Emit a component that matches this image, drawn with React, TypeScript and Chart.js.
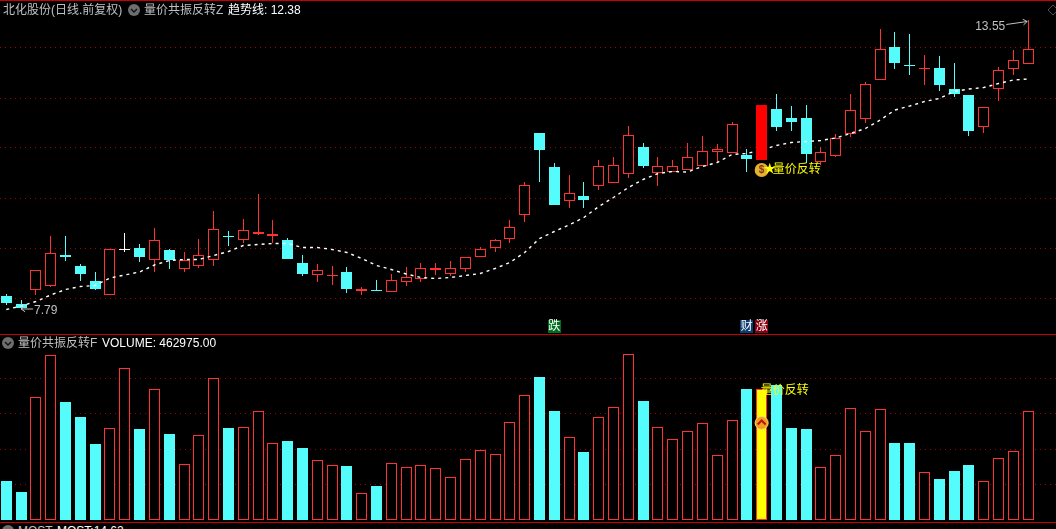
import { useEffect, useRef } from "react";
import { Chart, registerables } from "chart.js";

Chart.register(...registerables);

const days = Array.from({ length: 70 }, (_, i) => i);

const open = [
  8.04, 7.89, 8.17, 8.25, 8.86, 8.64, 8.35, 8.07, 8.99, 9.0,
  8.77, 8.96, 8.59, 8.65, 8.77, 9.23, 9.17, 9.29, 9.23, 9.16,
  8.7, 8.47, 8.45, 8.52, 8.15, 8.17, 8.13, 8.33, 8.39, 8.57,
  8.49, 8.59, 8.81, 9.01, 9.19, 9.67, 11.3, 10.62, 9.95, 10.04,
  10.25, 10.31, 10.47, 11.02, 10.49, 10.53, 10.55, 10.63, 10.93, 10.89,
  10.87, 10.76, 11.78, 11.6, 11.6, 10.71, 10.85, 11.29, 11.59, 12.37,
  13.02, 12.65, 12.58, 12.6, 12.18, 12.06, 11.43, 12.17, 12.57, 12.69,
];
const close = [
  7.91, 7.81, 8.57, 8.89, 8.83, 8.49, 8.19, 8.99, 8.99, 8.83,
  9.17, 8.77, 8.76, 8.87, 9.39, 9.22, 9.37, 9.32, 9.29, 8.79,
  8.49, 8.57, 8.47, 8.19, 8.19, 8.15, 8.37, 8.43, 8.61, 8.61,
  8.61, 8.81, 8.99, 9.15, 9.43, 10.27, 10.96, 9.86, 10.11, 9.96,
  10.63, 10.67, 11.25, 10.64, 10.63, 10.63, 10.81, 10.95, 10.97, 11.47,
  10.79, 11.86, 11.42, 11.52, 10.88, 10.93, 11.2, 11.77, 12.29, 12.97,
  12.7, 12.64, 12.59, 12.26, 12.08, 11.34, 11.81, 12.55, 12.75, 12.97,
];
const high = [
  8.08, 7.96, 8.57, 9.24, 9.24, 8.69, 8.52, 8.99, 9.3, 9.08,
  9.4, 8.98, 8.92, 9.18, 9.74, 9.34, 9.58, 10.08, 9.56, 9.2,
  8.86, 8.68, 8.64, 8.62, 8.22, 8.36, 8.48, 8.62, 8.7, 8.7,
  8.74, 8.81, 9.02, 9.18, 9.56, 10.32, 11.3, 10.7, 10.46, 10.32,
  10.77, 10.83, 11.44, 11.1, 10.83, 10.76, 11.11, 11.23, 11.07, 11.52,
  10.98, 11.86, 12.08, 11.84, 11.86, 11.02, 11.28, 12.08, 12.32, 13.38,
  13.32, 13.28, 12.86, 12.84, 12.7, 12.06, 11.81, 12.62, 12.96, 13.55,
];
const low = [
  7.87, 7.79, 8.07, 8.21, 8.75, 8.35, 8.17, 8.07, 8.93, 8.71,
  8.53, 8.58, 8.53, 8.61, 8.65, 9.04, 9.1, 9.27, 9.1, 8.79,
  8.45, 8.33, 8.27, 8.11, 8.07, 8.15, 8.13, 8.24, 8.31, 8.47,
  8.45, 8.53, 8.81, 8.93, 9.11, 9.53, 10.32, 9.86, 9.81, 9.81,
  10.17, 10.31, 10.41, 10.6, 10.25, 10.53, 10.55, 10.63, 10.71, 10.89,
  10.53, 10.76, 11.35, 11.34, 10.7, 10.65, 10.81, 11.21, 11.51, 12.37,
  12.58, 12.46, 12.26, 12.14, 12.02, 11.24, 11.3, 11.94, 12.46, 12.69,
];
const trend = [
  7.77, 7.84, 7.93, 8.06, 8.17, 8.23, 8.25, 8.4, 8.46, 8.52,
  8.66, 8.75, 8.77, 8.77, 8.85, 8.93, 9.05, 9.07, 9.09, 9.09,
  9.01, 9.01, 8.97, 8.91, 8.79, 8.65, 8.57, 8.48, 8.41, 8.39,
  8.41, 8.45, 8.49, 8.59, 8.71, 8.91, 9.19, 9.33, 9.46, 9.61,
  9.83, 10.01, 10.21, 10.37, 10.49, 10.53, 10.52, 10.63, 10.71, 10.87,
  10.89, 10.96, 11.05, 11.11, 11.13, 11.15, 11.2, 11.29, 11.39, 11.56,
  11.76, 11.84, 11.93, 11.99, 12.13, 12.18, 12.21, 12.29, 12.36, 12.38,
];
const volume = [
  164000, 118000, 520000, 698000, 500000, 436000, 321000, 388000, 643000, 385000,
  554000, 364000, 235000, 358000, 600000, 389000, 392000, 460000, 324000, 334000,
  304000, 252000, 231000, 228000, 112000, 143000, 239000, 222000, 231000, 218000,
  180000, 256000, 295000, 278000, 413000, 528000, 606000, 461000, 350000, 287000,
  435000, 477000, 702000, 504000, 392000, 341000, 375000, 409000, 273000, 422000,
  555000, 555000, 572000, 389000, 385000, 222000, 273000, 473000, 375000, 469000,
  326000, 326000, 201000, 173000, 207000, 232000, 163000, 261000, 290000, 462975,
];
const priceTicks = [8, 9, 10, 11, 12, 13];
const volumeTicks = [150000, 300000, 450000, 600000];

const reversalDay = 51;
const signalLabel = "量价反转";
const dayMarks = [
  { day: 37, text: "跌", color: "#006e1e" },
  { day: 50, text: "财", color: "#0c3c70" },
  { day: 51, text: "涨", color: "#8a0010" },
];

const RED = "#ff3232";
const CYAN = "#54fcfc";
const GRID = "#a00000";
const LABEL_FONT = '12px "Liberation Sans", "Noto Sans CJK SC", sans-serif';

const candleColor = (i: number) => {
  if (close[i] > open[i]) return RED;
  if (close[i] < open[i]) return CYAN;
  return "#ffffff";
};

const xScale = { type: "linear" as const, display: false, offset: false, min: -0.425, max: 70.875 };
const yScale = (min: number, max: number, ticks: number[]) => ({
  min,
  max,
  afterBuildTicks: (scale: any) => {
    scale.ticks = ticks.map((value) => ({ value }));
  },
  ticks: { display: false },
  border: { display: false, dash: [1, 4] },
  grid: { color: GRID, drawTicks: false },
});

// the old terminal draws everything on whole pixels, chart.js does not
const snapBars = {
  id: "snapBars",
  beforeDatasetsDraw(chart: any) {
    chart.getSortedVisibleDatasetMetas().forEach((meta: any) => {
      if (meta.type !== "bar") return;
      meta.data.forEach((el: any) => {
        el.x = Math.floor(el.x) + 0.5;
        el.y = Math.round(el.y);
        el.base = Math.round(el.base);
        if (Math.abs(el.base - el.y) < 1) el.base = el.y + 1;
      });
    });
  },
};

const arrow = (ctx: CanvasRenderingContext2D, x0: number, y0: number, x1: number, y1: number) => {
  const a = Math.atan2(y1 - y0, x1 - x0);
  ctx.beginPath();
  ctx.moveTo(x0, y0);
  ctx.lineTo(x1, y1);
  ctx.lineTo(x1 - 5 * Math.cos(a - 0.6), y1 - 5 * Math.sin(a - 0.6));
  ctx.moveTo(x1, y1);
  ctx.lineTo(x1 - 5 * Math.cos(a + 0.6), y1 - 5 * Math.sin(a + 0.6));
  ctx.stroke();
};

const priceMarks = {
  id: "priceMarks",
  afterDraw(chart: any) {
    const { ctx, scales } = chart;
    const x = scales.x;
    const y = scales.y;
    ctx.save();
    ctx.font = LABEL_FONT;
    ctx.textBaseline = "middle";
    ctx.lineWidth = 1;
    ctx.strokeStyle = "#c0c0c0";

    // highest high and lowest low
    const top = Math.max(...high);
    const hx = x.getPixelForValue(high.indexOf(top));
    const hy = y.getPixelForValue(top);
    ctx.fillStyle = "#c0c0c0";
    ctx.textAlign = "right";
    ctx.fillText(top.toFixed(2), hx - 23, hy + 6);
    arrow(ctx, hx - 22, hy + 4, hx - 1, hy + 1);

    const bottom = Math.min(...low);
    const lx = x.getPixelForValue(low.indexOf(bottom));
    const ly = y.getPixelForValue(bottom);
    ctx.textAlign = "left";
    ctx.fillText(bottom.toFixed(2), lx + 13, ly + 2);
    arrow(ctx, lx + 12, ly + 0.5, lx, ly + 0.5);

    // reversal signal under the solid red candle
    const rx = x.getPixelForValue(reversalDay);
    const ry = y.getPixelForValue(open[reversalDay]) + 10;
    ctx.fillStyle = "#e8b030";
    ctx.beginPath();
    ctx.arc(rx, ry, 7, 0, Math.PI * 2);
    ctx.fill();
    ctx.fillStyle = "#7a3c10";
    ctx.font = 'bold 10px "Liberation Sans", sans-serif';
    ctx.textAlign = "center";
    ctx.fillText("$", rx, ry + 0.5);
    ctx.fillStyle = "#ffff00";
    ctx.font = LABEL_FONT;
    ctx.textAlign = "left";
    ctx.fillText("★", rx + 2, ry);
    ctx.fillText(signalLabel, rx + 11, ry);

    dayMarks.forEach((m) => {
      const cx = x.getPixelForValue(m.day);
      ctx.fillStyle = m.color;
      ctx.fillRect(Math.round(cx - 6.5), 319, 13, 13);
      ctx.fillStyle = "#ffffff";
      ctx.textAlign = "center";
      ctx.fillText(m.text, cx, 326);
    });

    // small diamond in the corner
    ctx.strokeStyle = "#505050";
    ctx.beginPath();
    ctx.moveTo(1053, 4);
    ctx.lineTo(1058, 9);
    ctx.lineTo(1053, 14);
    ctx.lineTo(1048, 9);
    ctx.closePath();
    ctx.stroke();
    ctx.restore();
  },
};

const volumeMarks = {
  id: "volumeMarks",
  afterDraw(chart: any) {
    const { ctx, scales } = chart;
    const rx = scales.x.getPixelForValue(reversalDay);
    ctx.save();
    ctx.font = LABEL_FONT;
    ctx.textBaseline = "middle";
    ctx.fillStyle = "#ffff00";
    ctx.textAlign = "left";
    ctx.fillText(signalLabel, rx - 1, scales.y.getPixelForValue(volume[reversalDay]) + 2);

    const cy = scales.y.getPixelForValue(volume[reversalDay] * 0.74);
    ctx.fillStyle = "#f0a020";
    ctx.strokeStyle = "#f8e060";
    ctx.lineWidth = 1;
    ctx.beginPath();
    ctx.arc(rx, cy, 6.5, 0, Math.PI * 2);
    ctx.fill();
    ctx.stroke();
    ctx.strokeStyle = "#c01010";
    ctx.lineWidth = 2;
    ctx.beginPath();
    ctx.moveTo(rx - 4, cy + 1.5);
    ctx.lineTo(rx, cy - 2.5);
    ctx.lineTo(rx + 4, cy + 1.5);
    ctx.stroke();
    ctx.restore();
  },
};

const baseOptions = {
  responsive: true,
  maintainAspectRatio: false,
  animation: false as const,
  events: [],
  layout: { padding: 0 },
  plugins: { legend: { display: false }, tooltip: { enabled: false } },
};

const PriceChart = () => {
  const canvasRef = useRef<HTMLCanvasElement | null>(null);

  useEffect(() => {
    if (!canvasRef.current) return;
    const plain = days.filter((d) => d !== reversalDay);
    const chart = new Chart(canvasRef.current, {
      type: "bar",
      data: {
        datasets: [
          {
            data: plain.map((d) => ({ x: d, y: [low[d], high[d]] })),
            backgroundColor: plain.map(candleColor),
            barThickness: 1,
            grouped: false,
            inflateAmount: 0,
            order: 4,
          },
          {
            data: plain.map((d) => ({ x: d, y: [open[d], close[d]] })),
            backgroundColor: plain.map((d) => (close[d] > open[d] ? "#000000" : candleColor(d))),
            borderColor: plain.map(candleColor),
            borderWidth: 1,
            borderSkipped: false,
            barThickness: 11,
            grouped: false,
            inflateAmount: 0,
            order: 3,
          },
          {
            type: "line",
            data: days.map((d) => ({ x: d, y: trend[d] })),
            borderColor: "#ffffff",
            borderWidth: 1.4,
            borderDash: [3, 4],
            pointRadius: 0,
            tension: 0,
            order: 2,
          },
          {
            data: [{ x: reversalDay, y: [open[reversalDay], close[reversalDay]] }],
            backgroundColor: "#ff0000",
            barThickness: 11,
            grouped: false,
            inflateAmount: 0,
            order: 1,
          },
        ],
      } as any,
      options: {
        ...baseOptions,
        scales: { x: xScale, y: yScale(7.28, 13.94, priceTicks) },
      } as any,
      plugins: [snapBars, priceMarks],
    });
    return () => chart.destroy();
  }, []);

  return (
    <div style={{ position: "absolute", left: 0, top: 1, width: 1056, height: 333 }}>
      <canvas ref={canvasRef}></canvas>
    </div>
  );
};

const VolumeChart = () => {
  const canvasRef = useRef<HTMLCanvasElement | null>(null);

  useEffect(() => {
    if (!canvasRef.current) return;
    const chart = new Chart(canvasRef.current, {
      type: "bar",
      data: {
        datasets: [
          {
            data: days.map((d) => ({ x: d, y: volume[d] })),
            backgroundColor: days.map((d) => {
              if (d === reversalDay) return "#ffff00";
              return close[d] >= open[d] ? "#000000" : CYAN;
            }),
            borderColor: days.map((d) => (close[d] >= open[d] ? RED : CYAN)),
            borderWidth: 1,
            borderSkipped: false,
            barThickness: 11,
            inflateAmount: 0,
          },
        ],
      } as any,
      options: {
        ...baseOptions,
        scales: { x: xScale, y: yScale(-9764, 784000, volumeTicks) },
      } as any,
      plugins: [snapBars, volumeMarks],
    });
    return () => chart.destroy();
  }, []);

  return (
    <div style={{ position: "absolute", left: 0, top: 335, width: 1056, height: 187 }}>
      <canvas ref={canvasRef}></canvas>
    </div>
  );
};

const Collapse = ({ x, y }: { x: number; y: number }) => (
  <svg width="12" height="12" style={{ position: "absolute", left: x, top: y }}>
    <circle cx="6" cy="6" r="6" fill="#6e6e6e" />
    <path d="M3 5 L6 8 L9 5" stroke="#101010" strokeWidth="1.4" fill="none" />
  </svg>
);

const Label = ({ x, y, color, children }: any) => (
  <span
    style={{
      position: "absolute",
      left: x,
      top: y,
      color,
      font: LABEL_FONT,
      lineHeight: "14px",
      whiteSpace: "nowrap",
    }}
  >
    {children}
  </span>
);

const Rule = ({ y }: { y: number }) => (
  <div style={{ position: "absolute", left: 0, top: y, width: 1056, height: 1, background: "#c80000" }} />
);

export default function App() {
  return (
    <div style={{ position: "absolute", left: 0, top: 0, width: 1056, height: 529, background: "#000", overflow: "hidden" }}>
      <style>{"html,body{margin:0;background:#000;overflow:hidden}"}</style>
      <PriceChart />
      <VolumeChart />
      <Rule y={0} />
      <Rule y={334} />
      <Rule y={522} />
      <Label x={3} y={3} color="#c0c0c0">北化股份(日线.前复权)</Label>
      <Collapse x={128} y={4} />
      <Label x={144} y={3} color="#c0c0c0">量价共振反转Z</Label>
      <Label x={228} y={3} color="#ffffff">趋势线: 12.38</Label>
      <Collapse x={2} y={337} />
      <Label x={18} y={336} color="#c0c0c0">量价共振反转F</Label>
      <Label x={102} y={336} color="#ffffff">VOLUME: 462975.00</Label>
      <Collapse x={2} y={525} />
      <Label x={18} y={524} color="#c0c0c0">MOST</Label>
      <Label x={57} y={524} color="#ffffff">MOST:14.62</Label>
    </div>
  );
}
